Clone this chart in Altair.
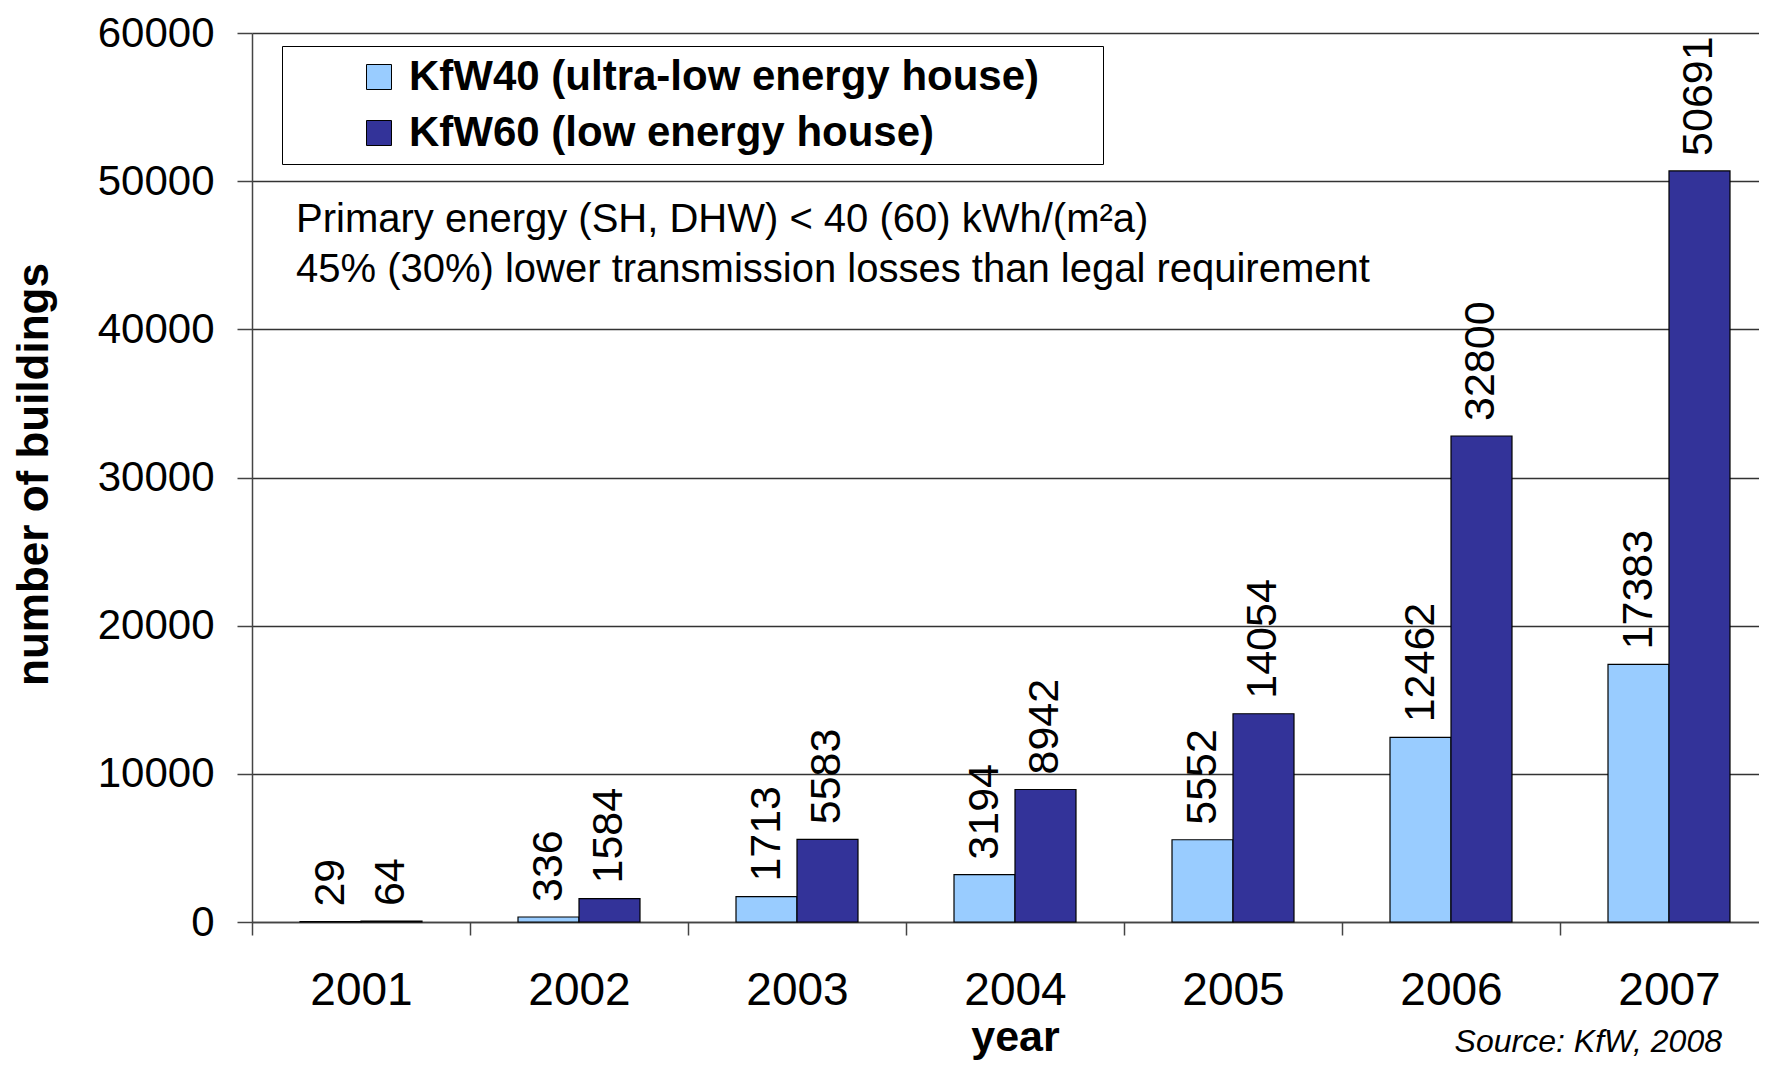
import altair as alt
import pandas as pd

years = ["2001", "2002", "2003", "2004", "2005", "2006", "2007"]
kfw40 = [29, 336, 1713, 3194, 5552, 12462, 17383]
kfw60 = [64, 1584, 5583, 8942, 14054, 32800, 50691]
series = ["KfW40 (ultra-low energy house)", "KfW60 (low energy house)"]
colors = ["#99CCFF", "#333399"]
note_lines = [
    "Primary energy (SH, DHW) < 40 (60) kWh/(m\u00b2a)",
    "45% (30%) lower transmission losses than legal requirement",
]
source_text = "Source: KfW, 2008"

rows = []
for i, y in enumerate(years):
    rows.append({"year": y, "series": series[0], "value": kfw40[i]})
    rows.append({"year": y, "series": series[1], "value": kfw60[i]})
df = pd.DataFrame(rows)

FONT = "Liberation Sans"
W, H = 1507, 889

x_enc = alt.X(
    "year:N",
    sort=years,
    scale=alt.Scale(paddingInner=0, paddingOuter=0, range=[0, 1526]),
    axis=alt.Axis(
        title="year",
        titleFont=FONT, titleFontSize=43, titleFontWeight="bold", titleColor="black",
        titleY=115, titleBaseline="middle",
        labelFont=FONT, labelFontSize=46, labelColor="black", labelAngle=0,
        labelPadding=33, tickBand="extent", tickSize=13, tickColor="#444",
        domainColor="#444", domainWidth=1.5, tickWidth=1.5,
    ),
)
xoff = alt.XOffset("series:N", sort=series,
                   scale=alt.Scale(paddingInner=0, paddingOuter=0.787))
y_enc = alt.Y(
    "value:Q",
    scale=alt.Scale(domain=[0, 60000], nice=False),
    axis=alt.Axis(
        title="number of buildings",
        titleFont=FONT, titleFontSize=44, titleFontWeight="bold", titleColor="black",
        titleX=-218, titleY=441, titleAngle=270, titleAlign="center", titleBaseline="middle",
        values=[0, 10000, 20000, 30000, 40000, 50000, 60000], format="d",
        labelFont=FONT, labelFontSize=42, labelColor="black", labelPadding=23,
        tickSize=15, tickColor="#444", tickWidth=1.5,
        domainColor="#444", domainWidth=1.5,
        grid=True, gridColor="#333", gridWidth=1.3,
    ),
)

bars = alt.Chart(df).mark_bar(stroke="black", strokeWidth=1.2).encode(
    x=x_enc, xOffset=xoff, y=y_enc,
    color=alt.Color(
        "series:N",
        scale=alt.Scale(domain=series, range=colors),
        legend=alt.Legend(
            title="\u00a0", titleOrient="right", titlePadding=54, titleFontSize=30,
            orient="none", legendX=30, legendY=13,
            strokeColor="black", padding=10, fillColor="white",
            symbolType="square", symbolSize=625, symbolStrokeColor="black",
            symbolStrokeWidth=1, symbolOffset=66,
            labelFont=FONT, labelFontSize=42, labelFontWeight="bold",
            labelColor="black", labelLimit=2000, labelOffset=9, rowPadding=14,
        ),
    ),
)

labels = alt.Chart(df).mark_text(
    angle=270, align="left", baseline="middle", dx=15,
    font=FONT, fontSize=43, color="black",
).encode(x=alt.X("year:N", sort=years), xOffset=alt.XOffset("series:N", sort=series),
         y="value:Q", text="value:Q")

note = alt.Chart(pd.DataFrame({"t": [0]})).mark_text(
    align="left", baseline="top", font=FONT, fontSize=40, lineHeight=50, color="black",
).encode(x=alt.value(44), y=alt.value(167), text=alt.value(note_lines))

source = alt.Chart(pd.DataFrame({"t": [0]})).mark_text(
    align="right", baseline="middle", font=FONT, fontSize=32, fontStyle="italic", color="black",
).encode(x=alt.value(1470), y=alt.value(1009), text=alt.value(source_text))

chart = alt.layer(bars, labels, note, source).properties(
    width=W, height=H,
    autosize=alt.AutoSizeParams(type="none"),
    padding={"left": 244, "top": 25, "right": 0, "bottom": 139},
).configure_view(stroke=None).configure(font=FONT)

chart.save("out.html", embed_options={"renderer": "svg", "actions": False})
